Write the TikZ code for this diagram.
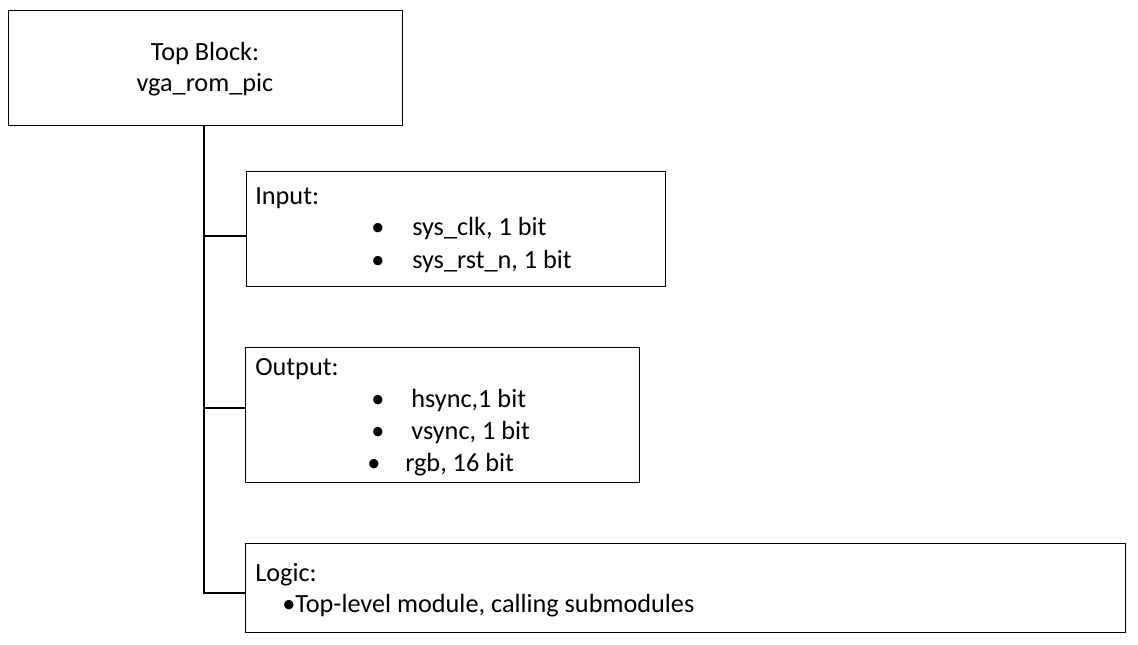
\documentclass[tikz,border=0pt]{standalone}
\usepackage{fontspec}
\setmainfont{Carlito}
\begin{document}
\begin{tikzpicture}[x=0.75pt,y=-0.75pt,
  box/.style={draw,line width=1.1pt,inner sep=0pt},
  wire/.style={draw,line width=1.1pt},
  txt/.style={anchor=base west,inner sep=0pt,font=\fontsize{19.7}{23}\selectfont},
  ctxt/.style={anchor=base,inner sep=0pt,font=\fontsize{19.7}{23}\selectfont}]
\useasboundingbox[fill=white] (0,0) rectangle (1138,645);
% boxes (sizes in pt = px * 0.75)
\node[box,minimum width=295.5pt,minimum height=86.25pt,anchor=north west] (top) at (8,10) {};
\node[box,minimum width=314.25pt,minimum height=86.25pt,anchor=north west] (inp) at (246,171) {};
\node[box,minimum width=295.5pt,minimum height=101.25pt,anchor=north west] (out) at (245,347) {};
\node[box,minimum width=660pt,minimum height=66.75pt,anchor=north west] (logic) at (245,543) {};
% texts
\node[ctxt] (t1) at (205,61) {Top Block:};
\node[ctxt] (t2) at (205,92) {vga\_rom\_pic};
\node[txt] (i0) at (255,205) {Input:};
\node[txt] (i1) at (371,236) {•};
\node[txt] (i1t) at (412,236) {sys\_clk, 1 bit};
\node[txt] (i2) at (371,268) {•};
\node[txt] (i2t) at (412,268) {sys\_rst\_n, 1 bit};
\node[txt] (o0) at (255,375) {Output:};
\node[txt] (o1) at (371,407) {•};
\node[txt] (o1t) at (411,407) {hsync,1 bit};
\node[txt] (o2) at (371,439) {•};
\node[txt] (o2t) at (411,439) {vsync, 1 bit};
\node[txt] (o3) at (367,471) {•};
\node[txt] (o3t) at (405,471) {rgb, 16 bit};
\node[txt] (l0) at (255,581) {Logic:};
\node[txt] (l1) at (282,612) {•Top-level module, calling submodules};
% connectors
\coordinate (j1) at (204,236);
\coordinate (j2) at (204,408);
\coordinate (j3) at (204,593);
\draw[wire] (top.south -| j1) -- (j3) -- (j3 -| logic.west);
\draw[wire] (j1) -- (j1 -| inp.west);
\draw[wire] (j2) -- (j2 -| out.west);
\end{tikzpicture}
\end{document}
